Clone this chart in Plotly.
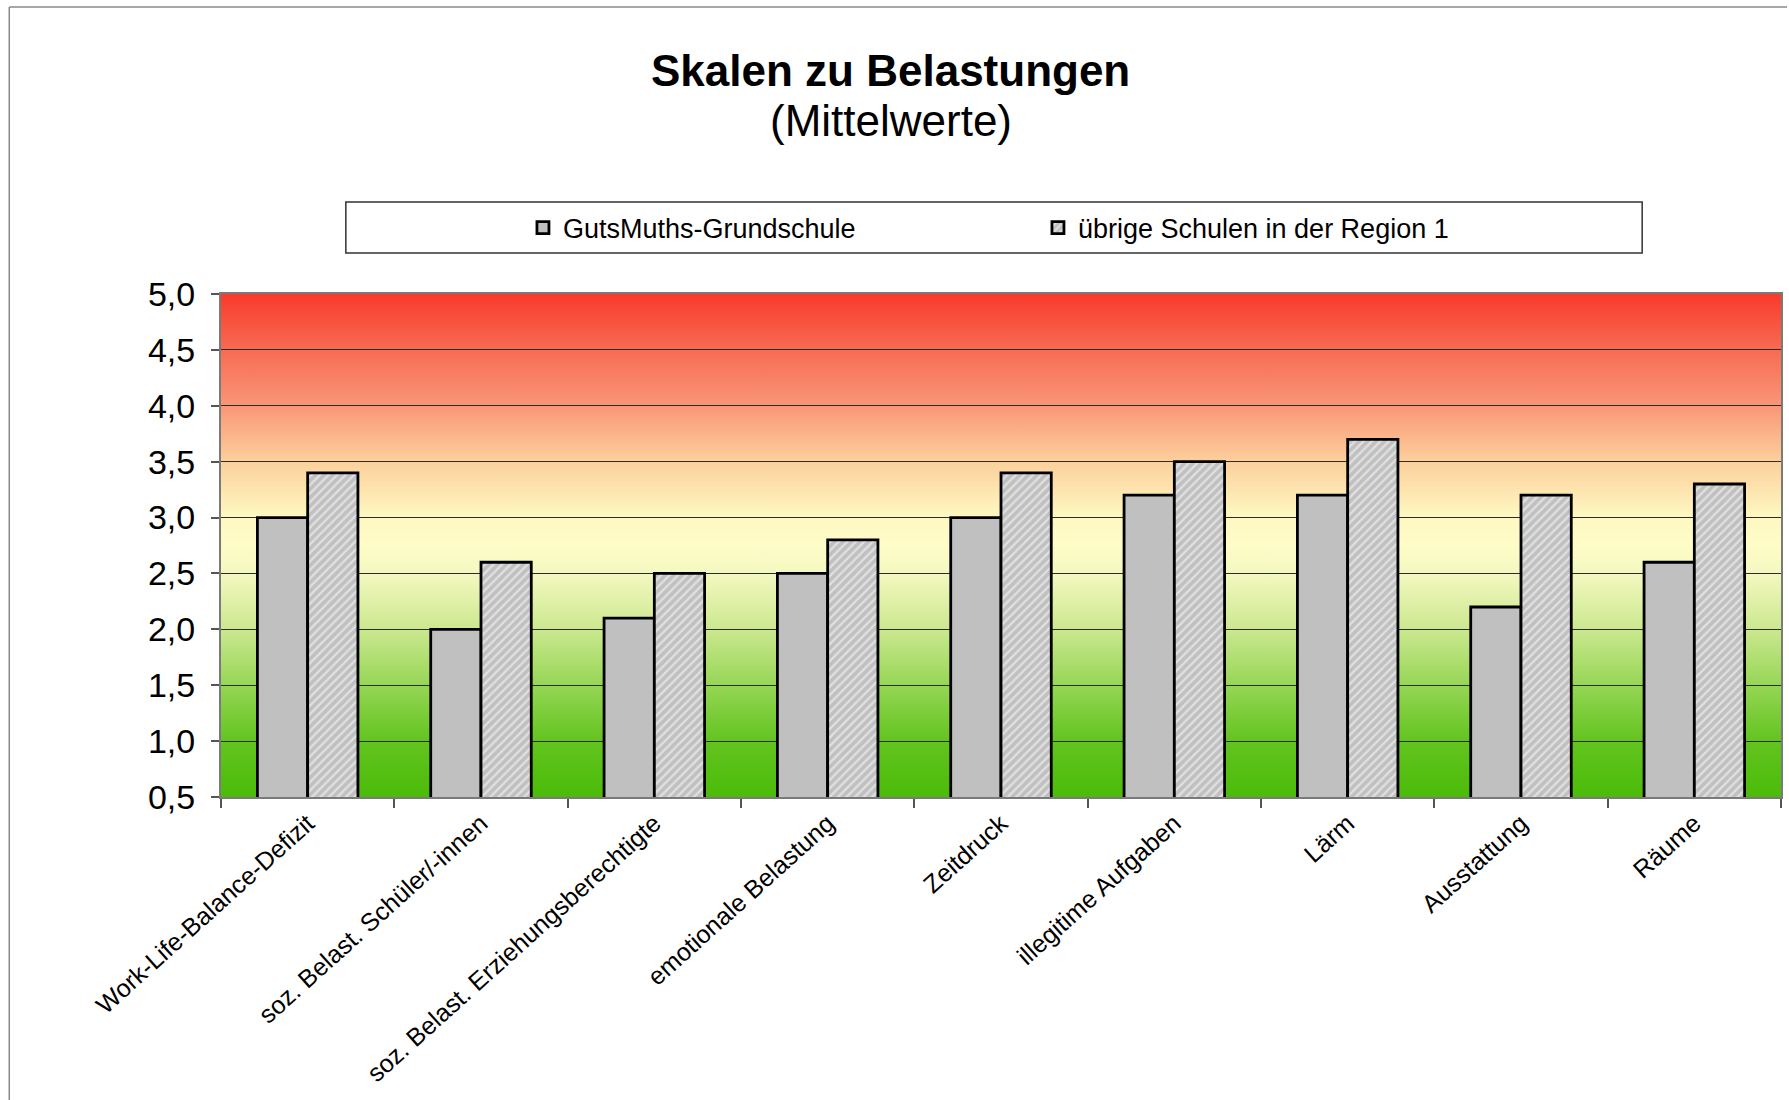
import base64
import plotly.graph_objects as go

categories = [
    "Work-Life-Balance-Defizit",
    "soz. Belast. Schüler/-innen",
    "soz. Belast. Erziehungsberechtigte",
    "emotionale Belastung",
    "Zeitdruck",
    "illegitime Aufgaben",
    "Lärm",
    "Ausstattung",
    "Räume",
]
series_names = ["GutsMuths-Grundschule", "übrige Schulen in der Region 1"]
school_values = [3.0, 2.0, 2.1, 2.5, 3.0, 3.2, 3.2, 2.2, 2.6]
region_values = [3.4, 2.6, 2.5, 2.8, 3.4, 3.5, 3.7, 3.2, 3.3]
y_tick_values = [0.5, 1.0, 1.5, 2.0, 2.5, 3.0, 3.5, 4.0, 4.5, 5.0]

FONT = "Liberation Sans, Arial, sans-serif"

# background gradient (red -> yellow -> green), drawn as an SVG image below the grid
stops = [
    (0.000, "#f93a2b"), (0.111, "#f76b53"), (0.222, "#fa9676"),
    (0.333, "#fcd09c"), (0.444, "#fef8c2"), (0.500, "#fefcc8"),
    (0.555, "#f4f8c0"), (0.666, "#cce890"), (0.777, "#96d656"),
    (0.888, "#63c420"), (1.000, "#4bbb08"),
]
stop_xml = "".join(
    f'<stop offset="{o}" stop-color="{c}"/>' for o, c in stops
)
svg = (
    '<svg xmlns="http://www.w3.org/2000/svg" width="100" height="100" '
    'viewBox="0 0 100 100" preserveAspectRatio="none">'
    '<defs><linearGradient id="g" x1="0" y1="0" x2="0" y2="1">'
    + stop_xml +
    '</linearGradient></defs>'
    '<rect x="0" y="0" width="100" height="100" fill="url(#g)"/></svg>'
)
svg_uri = "data:image/svg+xml;base64," + base64.b64encode(svg.encode()).decode()

fig = go.Figure()
fig.add_trace(go.Bar(
    name=series_names[0], x=categories, y=school_values,
    marker=dict(color="#c0c0c0", line=dict(color="black", width=2.8)),
))
fig.add_trace(go.Bar(
    name=series_names[1], x=categories, y=region_values,
    marker=dict(
        color="#c0c0c0",
        line=dict(color="black", width=2.8),
        pattern=dict(shape="/", fgcolor="white", bgcolor="#c0c0c0", size=6, solidity=0.4),
    ),
))

W, H = 1789, 1100
L, R, T, B = 221, 6, 294, 303
pw, ph = W - L - R, H - T - B


def px_x(x):
    return (x - L) / pw


def px_y(y):
    return (H - B - y) / ph


fig.update_layout(
    width=W, height=H,
    margin=dict(l=L, r=R, t=T, b=B),
    paper_bgcolor="white",
    plot_bgcolor="rgba(0,0,0,0)",
    separators=", ",
    font=dict(family=FONT, color="black"),
    barmode="group",
    bargap=0.42,
    bargroupgap=0.0,
    showlegend=True,
    legend=dict(
        orientation="h",
        x=px_x(1039), xanchor="center",
        y=px_y(228), yanchor="middle",
        font=dict(family=FONT, size=27, color="black"),
        bgcolor="rgba(0,0,0,0)",
        borderwidth=0,
        entrywidth=470,
        itemclick=False,
    ),
    images=[dict(
        source=svg_uri, xref="paper", yref="paper",
        x=0, y=1, sizex=1, sizey=1, xanchor="left", yanchor="top",
        sizing="stretch", layer="below",
    )],
    annotations=[
        dict(text="<b>Skalen zu Belastungen</b>", xref="paper", yref="paper",
             x=px_x(891), y=px_y(70), xanchor="center", yanchor="middle",
             showarrow=False, font=dict(family=FONT, size=44, color="black")),
        dict(text="(Mittelwerte)", xref="paper", yref="paper",
             x=px_x(892), y=px_y(121), xanchor="center", yanchor="middle",
             showarrow=False, font=dict(family=FONT, size=44, color="black")),
    ],
    shapes=[
        # legend frame
        dict(type="rect", xref="paper", yref="paper",
             x0=px_x(346), x1=px_x(1644), y0=px_y(253), y1=px_y(202),
             line=dict(color="#333333", width=1.5), fillcolor="rgba(0,0,0,0)"),
        # outer chart frame (left and top edges)
        dict(type="line", xref="paper", yref="paper",
             x0=px_x(9), x1=px_x(9), y0=px_y(1100), y1=px_y(7),
             line=dict(color="#8a8a8a", width=1.5)),
        dict(type="line", xref="paper", yref="paper",
             x0=px_x(9), x1=px_x(1789), y0=px_y(7), y1=px_y(7),
             line=dict(color="#8a8a8a", width=1.5)),
    ],
)

fig.update_yaxes(
    range=[0.5, 5.0],
    tickvals=y_tick_values,
    tickformat=".1f",
    ticks="outside", ticklen=8, tickwidth=1.5, tickcolor="#555555",
    ticklabelstandoff=9,
    tickfont=dict(family=FONT, size=34, color="black"),
    showgrid=True, gridcolor="#2b2b2b", gridwidth=1.2,
    showline=True, linecolor="#7a7a7a", linewidth=2, mirror=True,
    zeroline=False,
)
fig.update_xaxes(
    type="category",
    tickangle=-42,
    ticks="outside", ticklen=9, tickwidth=1.5, tickcolor="#555555",
    tickson="boundaries",
    tickfont=dict(family=FONT, size=25, color="black"),
    showgrid=False,
    showline=True, linecolor="#7a7a7a", linewidth=2, mirror=True,
)

fig.write_html(
    "out.html",
    config={"displayModeBar": False},
    post_script="document.body.style.margin='0';document.body.style.overflow='hidden';",
)
